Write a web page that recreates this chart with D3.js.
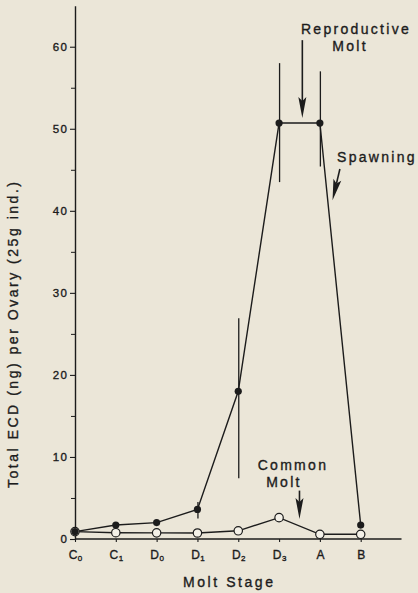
<!DOCTYPE html>
<html>
<head>
<meta charset="utf-8">
<script src="https://cdn.jsdelivr.net/npm/d3@7/dist/d3.min.js"></script>
<style>
  html, body { margin: 0; padding: 0; background: #ebe6d8; }
  svg { display: block; }
  text { font-family: "Liberation Sans", Arial, Helvetica, sans-serif; fill: #1c1c1c; stroke: #1c1c1c; stroke-width: 0.35px; }
</style>
</head>
<body>
<svg id="chart" width="418" height="593"></svg>
<script>
// ---- data ----
const categories = ["C0", "C1", "D0", "D1", "D2", "D3", "A", "B"];
const filledValues = [0.9, 1.7, 2.0, 3.6, 18.0, 50.7, 50.7, 1.7];
const openValues = [0.9, 0.77, 0.75, 0.73, 1.0, 2.6, 0.57, 0.57];
const errLow  = [null, null, null, 2.5, 7.4, 43.5, 45.4, null];
const errHigh = [null, null, null, 4.5, 26.9, 58.0, 57.0, null];
const yTicks = [0, 10, 20, 30, 40, 50, 60];
const yMinorTicks = [5, 15, 25, 35, 45, 55];
const yLabel = "Total ECD (ng) per Ovary (25g ind.)";
const xLabel = "Molt Stage";

// annotations in data units (x as category index, y as value)
const notes = [
  { lines: ["Reproductive", "Molt"], lx: [6.885, 6.74], ly: [61.6, 59.5],
    arrow: { x1: 5.57, y1: 60.8, x2: 5.57, y2: 51.3 } },
  { lines: ["Spawning"], lx: [6.42], ly: [45.9], anchor: "start",
    arrow: { x1: 6.49, y1: 45.1, x2: 6.31, y2: 41.3 } },
  { lines: ["Common", "Molt"], lx: [5.34, 5.12], ly: [8.35, 6.3],
    arrow: { x1: 5.5, y1: 5.9, x2: 5.5, y2: 2.45 } }
];

// ---- layout ----
const svg = d3.select("#chart");
const ink = "#1c1c1c";
const x = d3.scalePoint().domain(categories).range([75, 360.7]);
const y = d3.scaleLinear().domain([0, 65]).range([539, 5.7]);
const xAt = i => x(categories[0]) + i * x.step();

// y axis
const yAxis = svg.append("g").attr("transform", `translate(${x(categories[0])},0)`)
  .call(d3.axisLeft(y).tickValues(yTicks).tickSize(5).tickSizeOuter(0).tickPadding(3));
yAxis.select(".domain").attr("stroke", ink).attr("stroke-width", 1.4);
yAxis.selectAll(".tick line").attr("stroke", ink).attr("stroke-width", 1.1);
yAxis.selectAll(".tick text")
  .attr("font-size", 11.5).attr("letter-spacing", "1.4px").attr("dx", "1.4px")
  .attr("font-family", null).style("fill", ink);

const yMinor = svg.append("g").attr("transform", `translate(${x(categories[0])},0)`)
  .call(d3.axisLeft(y).tickValues(yMinorTicks).tickSize(4).tickFormat(""));
yMinor.select(".domain").remove();
yMinor.selectAll(".tick line").attr("stroke", ink).attr("stroke-width", 1);

// x axis
const xAxis = svg.append("g").attr("transform", `translate(0,${y(0)})`)
  .call(d3.axisBottom(x).tickSize(3).tickSizeOuter(0).tickPadding(8));
xAxis.select(".domain").remove();
xAxis.append("line")
  .attr("x1", x(categories[0])).attr("x2", xAt(8.0))
  .attr("stroke", ink).attr("stroke-width", 1.4);
xAxis.selectAll(".tick line").attr("stroke", ink).attr("stroke-width", 1.1);
xAxis.selectAll(".tick text").each(function(d) {
  const t = d3.select(this);
  t.text(null).attr("font-size", 12).attr("font-family", null).style("fill", ink)
    .attr("dy", null).attr("y", 20).attr("text-anchor", "middle");
  t.append("tspan").text(d[0]);
  if (d.length > 1) {
    t.append("tspan").text(d.slice(1)).attr("font-size", 8).attr("dy", 2).attr("dx", 0.5);
  }
});

// axis titles
svg.append("text")
  .attr("transform", `translate(${18},${335}) rotate(-90)`)
  .attr("text-anchor", "middle").attr("font-size", 14)
  .attr("textLength", 306).attr("lengthAdjust", "spacing")
  .text(yLabel);
svg.append("text")
  .attr("x", 228).attr("y", 587).attr("text-anchor", "middle").attr("font-size", 14)
  .attr("textLength", 90).attr("lengthAdjust", "spacing")
  .text(xLabel);

// lines
const line = d3.line().x((d, i) => x(categories[i])).y(d => y(d));
svg.append("path").datum(openValues).attr("d", line)
  .attr("fill", "none").attr("stroke", ink).attr("stroke-width", 1.4);
svg.append("path").datum(filledValues).attr("d", line)
  .attr("fill", "none").attr("stroke", ink).attr("stroke-width", 1.4);

// error bars
svg.append("g").selectAll("line")
  .data(categories.map((c, i) => ({ c, lo: errLow[i], hi: errHigh[i] })).filter(d => d.lo != null))
  .join("line")
  .attr("x1", d => x(d.c) + 0.5).attr("x2", d => x(d.c) + 0.5)
  .attr("y1", d => y(d.lo)).attr("y2", d => y(d.hi))
  .attr("stroke", ink).attr("stroke-width", 1.3);

// markers
svg.append("g").selectAll("circle")
  .data(openValues).join("circle")
  .attr("cx", (d, i) => x(categories[i])).attr("cy", d => y(d)).attr("r", 4.2)
  .attr("fill", "#f4f1e8").attr("stroke", ink).attr("stroke-width", 1.2);
svg.append("g").selectAll("circle")
  .data(filledValues).join("circle")
  .attr("cx", (d, i) => x(categories[i])).attr("cy", d => y(d)).attr("r", 3.6)
  .attr("fill", ink);

// annotations
function arrow(g, x1, y1, x2, y2) {
  const ang = Math.atan2(y2 - y1, x2 - x1);
  const L = 21, W = 4, N = 4;
  const ux = Math.cos(ang), uy = Math.sin(ang), px = -uy, py = ux;
  const bx = x2 - ux * L, by = y2 - uy * L;
  const nx = x2 - ux * (L - N), ny = y2 - uy * (L - N);
  g.append("line").attr("x1", x1).attr("y1", y1).attr("x2", nx).attr("y2", ny)
    .attr("stroke", ink).attr("stroke-width", 1.6);
  g.append("path")
    .attr("d", `M${x2},${y2} L${bx + px * W},${by + py * W} L${nx},${ny} L${bx - px * W},${by - py * W} Z`)
    .attr("fill", ink);
}
const ann = svg.append("g");
notes.forEach(n => {
  n.lines.forEach((s, k) => {
    ann.append("text").attr("x", xAt(n.lx[k])).attr("y", y(n.ly[k]))
      .attr("text-anchor", n.anchor || "middle").attr("font-size", 14)
      .attr("letter-spacing", "2.3px")
      .text(s);
  });
  arrow(ann, xAt(n.arrow.x1), y(n.arrow.y1), xAt(n.arrow.x2), y(n.arrow.y2));
});
</script>
</body>
</html>
